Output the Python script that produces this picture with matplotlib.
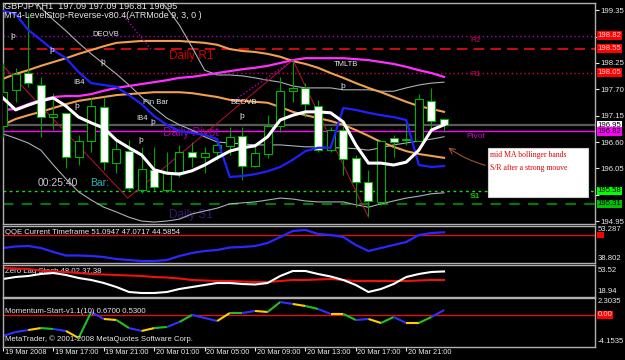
import matplotlib
matplotlib.use('Agg')
import matplotlib.pyplot as plt
import numpy as np
from matplotlib.patches import Rectangle

plt.rcParams['font.family'] = ['Liberation Sans', 'DejaVu Sans']

# ---------------- data ----------------
opens = [196.93, 197.69, 198.04, 197.79, 197.12, 197.21, 196.29, 196.62, 197.33, 196.16, 196.41, 195.60,
         196.02, 195.60, 195.97, 196.39, 196.29, 196.39, 196.52, 196.73, 196.10, 196.35, 196.93, 197.67,
         197.73, 197.35, 196.43, 196.85, 196.27, 195.77, 195.35, 196.68, 196.64, 196.62, 197.46, 197.09]
highs = [198.25, 198.15, 199.29, 197.96, 197.62, 197.21, 196.75, 197.52, 197.54, 196.64, 196.64, 196.50,
         196.50, 196.39, 196.54, 196.60, 196.50, 196.68, 196.91, 196.91, 196.54, 197.16, 197.96, 198.31,
         197.83, 197.48, 196.91, 196.93, 196.33, 196.02, 196.62, 196.75, 197.02, 197.60, 197.73, 197.09]
lows = [196.71, 197.44, 197.75, 196.71, 196.85, 196.06, 196.12, 196.39, 196.02, 195.95, 195.60, 195.54,
        195.60, 195.56, 195.87, 196.08, 195.95, 196.23, 196.33, 195.81, 196.08, 196.27, 196.81, 197.44,
        197.12, 196.39, 196.39, 195.91, 195.24, 195.06, 195.28, 196.29, 196.54, 196.62, 196.85, 196.81]
closes = [197.64, 198.02, 197.83, 197.12, 197.19, 196.29, 196.62, 197.35, 196.18, 196.45, 195.64, 196.04,
          195.66, 195.95, 196.39, 196.29, 196.37, 196.54, 196.71, 196.10, 196.37, 196.93, 197.67, 197.73,
          197.39, 196.43, 196.85, 196.25, 195.77, 195.37, 196.62, 196.60, 196.66, 197.50, 197.04, 196.95]

ma_white = [197.52, 197.27, 197.37, 197.46, 197.52, 197.35, 197.12, 197.00, 196.89, 196.64, 196.48, 196.33,
            196.02, 195.95, 195.93, 196.00, 196.12, 196.27, 196.41, 196.48, 196.52, 196.71, 197.06, 197.16,
            197.23, 197.23, 197.21, 197.02, 196.54, 196.16, 196.16, 196.12, 196.18, 196.43, 196.85, 196.96]
level_stop = [199.34, 199.27, 198.94, 198.73, 198.52, 198.35, 198.06, 197.83, 197.79, 197.75, 197.58, 197.39,
              197.14, 196.96, 196.83, 196.79, 196.75, 196.66, 195.87, 195.89, 195.93, 195.99, 196.08, 196.23,
              196.41, 196.48, 196.48, 197.31, 197.27, 197.21, 197.16, 197.12, 197.06, 196.12, 196.08, 196.10]
orange_up = [197.92, 198.02, 198.10, 198.19, 198.27, 198.35, 198.44, 198.52, 198.60, 198.67, 198.69, 198.71,
             198.71, 198.71, 198.71, 198.69, 198.67, 198.63, 198.54, 198.50, 198.48, 198.44, 198.38, 198.29,
             198.23, 198.15, 198.04, 197.94, 197.83, 197.73, 197.64, 197.54, 197.44, 197.35, 197.29, 197.23]
orange_lo = [196.96, 197.08, 197.16, 197.23, 197.31, 197.39, 197.46, 197.50, 197.54, 197.58, 197.60, 197.62,
             197.64, 197.64, 197.64, 197.62, 197.58, 197.54, 197.48, 197.46, 197.44, 197.42, 197.33, 197.23,
             197.16, 197.10, 197.04, 196.96, 196.85, 196.73, 196.60, 196.50, 196.41, 196.35, 196.31, 196.27]
magenta_ma = [197.27, 197.29, 197.39, 197.48, 197.54, 197.56, 197.56, 197.60, 197.67, 197.73, 197.77, 197.81,
              197.85, 197.89, 197.94, 197.96, 198.00, 198.04, 198.08, 198.12, 198.15, 198.19, 198.25, 198.31,
              198.35, 198.35, 198.35, 198.35, 198.33, 198.31, 198.27, 198.23, 198.17, 198.10, 198.04, 197.96]
band_mid = [200.19, 199.94, 199.69, 199.40, 199.15, 198.92, 198.67, 198.44, 198.23, 198.02, 197.79, 197.54,
            197.31, 197.10, 196.96, 196.85, 196.71, 196.60, 196.58, 196.56, 196.54, 196.54, 196.54, 196.52,
            196.50, 196.50, 196.48, 196.48, 196.46, 196.43, 196.48, 196.54, 196.58, 196.62, 196.66, 196.71]
band_up = [np.nan] * 10 + [200.50, 200.09, 199.67, 199.40, 199.04, 198.58, 198.10, 198.00, 198.00, 197.98,
                           197.94, 197.89, 197.85, 197.77, 197.73, 197.73, 197.73, 197.69, 197.69, 197.69,
                           197.66, 197.66, 197.73, 197.79, 197.83, 197.85]
band_lo = [196.77, 196.68, 196.58, 196.43, 196.12, 195.83, 195.56, 195.39, 195.24, 195.14, 195.03, 194.95,
           194.93, 194.95, 194.99, 195.10, 195.16, 195.22, 195.31, 195.33, 195.35, 195.39, 195.43, 195.41,
           195.37, 195.35, 195.35, 195.35, 195.29, 195.24, 195.31, 195.37, 195.43, 195.47, 195.52, 195.54]

# zigzag swing points (bar index, price)
zz_bars = [0, 9.9, 23, 29]
zz_prices = [198.19, 195.43, 198.31, 195.03]
zz2_bars = [9.4, 11.8]
zz2_prices = [199.29, 198.52]
zz3_bars = [18.4, 23]
zz3_prices = [197.48, 198.31]

levels = {'R2': 198.55, 'R1': 198.05, 'Pivot': 196.82, 'S1': 195.58, 'DS1': 195.31, 'top': 198.82, 'bid': 196.95}

qqe = [44.60, 45.22, 45.42, 44.60, 42.94, 41.49, 41.49, 41.29, 40.87, 40.04, 39.63, 39.21, 39.21, 39.63,
       41.29, 42.53, 43.35, 43.77, 44.80, 45.01, 45.42, 46.66, 49.15, 51.63, 52.05, 50.39, 49.98, 49.15,
       45.84, 43.35, 44.60, 45.84, 47.08, 49.98, 50.80, 51.09]
zl_white = [38.70, 41.17, 42.41, 44.88, 46.11, 43.64, 39.94, 37.47, 33.76, 28.82, 22.65, 21.41, 21.41, 22.65,
            26.35, 28.82, 31.29, 33.76, 33.76, 32.52, 31.90, 33.76, 42.41, 48.58, 48.58, 44.88, 41.79, 37.47,
            31.29, 22.65, 26.35, 32.52, 41.17, 44.88, 47.35, 48.02]
zl_red = [52.29, 51.67, 51.05, 49.20, 47.96, 47.35, 46.11, 44.88, 44.26, 43.64, 43.02, 42.41, 41.17, 40.55,
          39.32, 37.47, 36.85, 36.23, 36.23, 35.61, 35.00, 35.00, 36.23, 37.47, 37.47, 38.08, 38.70, 37.47,
          36.23, 36.23, 36.23, 36.23, 36.23, 36.85, 37.47, 37.38]
momentum = [-2.89, -2.34, -2.07, -1.80, -1.93, -2.20, -3.16, 0.41, -0.55, -0.69, -1.80, -2.20, -1.80, -1.65,
            -0.97, 0.00, -0.41, -0.83, 0.27, 0.27, 0.55, 0.41, 1.78, 1.51, 1.23, 0.82, 0.14, 0.14, -0.69,
            -0.55, -1.10, -0.28, -1.10, -1.10, -0.28, 0.67]
mom_seg = ['b', 'b', 'y', 'g', 'b', 'y', 'g', 'b', 'y', 'g', 'b', 'y', 'g', 'b', 'g', 'b', 'b', 'y', 'g', 'b',
           'y', 'g', 'b', 'y', 'g', 'b', 'y', 'g', 'b', 'y', 'g', 'b', 'y', 'g', 'b']

time_labels = ['19 Mar 2008', '19 Mar 17:00', '19 Mar 21:00', '20 Mar 01:00', '20 Mar 05:00',
               '20 Mar 09:00', '20 Mar 13:00', '20 Mar 17:00', '20 Mar 21:00']
price_ticks = [199.35, 198.80, 198.25, 197.70, 197.15, 196.60, 196.05, 195.50, 194.95]
hidden_ticks = [198.80, 195.50]

# ---------------- figure ----------------
W, H = 625, 360
fig = plt.figure(figsize=(W / 100, H / 100), dpi=100, facecolor='black')


def px_axes(left, top, right, bottom):
    a = fig.add_axes([left / W, 1 - bottom / H, (right - left) / W, (bottom - top) / H])
    a.set_facecolor('black')
    for s in a.spines.values():
        s.set_color('#b0b0b0')
        s.set_linewidth(1)
    a.set_xlim(0, 46.98)
    return a


x = np.arange(len(opens))
FS = 5.6
TXT = '#e8e8e8'

# ---------------- main panel ----------------
ax = px_axes(3, 3, 595, 224)
ax.set_ylim(194.889, 199.502)
ax.set_xticks([])
ax.yaxis.tick_right()
ax.set_yticks(price_ticks)
ax.set_yticklabels(['' if v in hidden_ticks else f'{v:.2f}' for v in price_ticks])
ax.tick_params(axis='y', colors=TXT, labelsize=FS, length=3, width=0.8, pad=1)

# horizontal levels
ax.axhline(levels['top'], color='#b000b0', lw=1, ls=(0, (1, 2)), zorder=1)
ax.axhline(levels['R2'], color='#ff1010', lw=1.1, ls=(0, (7, 4)), zorder=1)
ax.axhline(levels['R1'], color='#d0005a', lw=1, ls=(0, (1, 2)), zorder=1)
ax.axhline(levels['bid'], color='#5a5a5a', lw=1.6, zorder=1)
ax.axhline(levels['Pivot'], color='#ff00ff', lw=1, zorder=1)
ax.axhline(levels['S1'], color='#10e010', lw=1, ls=(0, (2, 2.5)), zorder=1)
ax.axhline(levels['DS1'], color='#007a00', lw=1.5, ls=(0, (5, 4)), zorder=1)

# big daily labels (behind)
ax.text(13.2, 198.40, 'Daily R1', color='#d00000', fontsize=8.5, va='center', zorder=1)
ax.text(12.7, 196.78, 'Daily Pivot', color='#a000a0', fontsize=8.5, va='center', zorder=1)
ax.text(13.2, 195.08, 'Daily S1', color='#3a1a6a', fontsize=8.5, va='center', zorder=1)

# bands and MAs
ax.plot(x, band_mid, color='#a8b0b8', lw=0.8, zorder=2)
ax.plot(x, band_up, color='#a8b0b8', lw=0.8, zorder=2)
ax.plot(x, band_lo, color='#a8b0b8', lw=0.8, zorder=2)
ax.plot(x, orange_up, color='#f0a050', lw=1.5, zorder=2)
ax.plot(x, orange_lo, color='#f0a050', lw=1.5, zorder=2)
ax.plot(x, magenta_ma, color='#ff30ff', lw=1.6, zorder=2)
ax.plot(zz_bars, zz_prices, color='#c01030', lw=0.7, zorder=2)
ax.plot(zz2_bars, zz2_prices, color='#b000b0', lw=1, ls=(0, (1, 1.5)), zorder=2)
ax.plot(zz3_bars, zz3_prices, color='#b000b0', lw=1, ls=(0, (1, 1.5)), zorder=2)

# candles
for i in range(len(opens)):
    o, h, l, c = opens[i], highs[i], lows[i], closes[i]
    ax.vlines(i, l, h, color='#00a000', lw=0.8, zorder=3)
    bull = c >= o
    body = max(abs(c - o), 0.012)
    ax.bar(i, body, bottom=min(o, c), width=0.64,
           color='black' if bull else 'white', edgecolor='#00b400', lw=0.8, zorder=4)

ax.plot(x, level_stop, color='#2020ff', lw=1.6, zorder=5)
ax.plot(x, ma_white, color='white', lw=2.2, zorder=5)


def box(a, val, txt, fc, tc, va='center', fs=FS):
    a.text(1.004, val, txt, transform=a.get_yaxis_transform(), fontsize=fs, color=tc, va=va, ha='left',
           bbox=dict(boxstyle='square,pad=0.1', fc=fc, ec='none'), zorder=20, clip_on=False)


box(ax, 198.82, '198.82', '#ff0000', '#ffd0d0')
box(ax, 198.55, '198.55', '#ff0000', '#ffd0d0')
box(ax, 198.05, '198.05', '#ff0000', '#ffd0d0')
box(ax, 196.95, '196.95', 'white', 'black')
box(ax, 196.82, '196.82', '#ff00ff', 'black')
box(ax, 195.58, '195.58', '#00ff00', 'black')
box(ax, 195.31, '195.31', '#00c000', 'black')

# ---------------- QQE ----------------
aq = px_axes(3, 226, 595, 263)
aq.set_ylim(38.39, 53.70)
aq.set_xticks([]); aq.set_yticks([])
aq.axhline(50, color='#e01010', lw=1)
aq.plot(x, qqe, color='#2828ff', lw=1.6)
aq.text(0.003, 0.82, 'QQE Current Timeframe 51.0947 47.0717 44.5854', transform=aq.transAxes,
        color=TXT, fontsize=FS, va='center', zorder=0)
aq.add_patch(Rectangle((1.004, 48.9), 0.011, 2.2, transform=aq.get_yaxis_transform(), fc='#ff0000',
                       ec='none', clip_on=False, zorder=1))
aq.text(1.004, 53.70, '53.287', transform=aq.get_yaxis_transform(), color=TXT, fontsize=FS, va='top',
        zorder=5)
aq.text(1.004, 38.802, '38.802', transform=aq.get_yaxis_transform(), color=TXT, fontsize=FS, va='bottom')

# ---------------- Zero lag stoch ----------------
az = px_axes(3, 265, 595, 297)
az.set_ylim(16.47, 55.99)
az.set_xticks([]); az.set_yticks([])
az.text(0.003, 0.8, 'Zero Lag Stoch 48.02 37.38', transform=az.transAxes, color=TXT, fontsize=FS,
        va='center', zorder=0)
az.plot(x, zl_red, color='#f01010', lw=1.5)
az.plot(x, zl_white, color='white', lw=1.5)
az.text(1.004, 53.52, '53.52', transform=az.get_yaxis_transform(), color=TXT, fontsize=FS, va='top')
az.text(1.004, 18.94, '18.94', transform=az.get_yaxis_transform(), color=TXT, fontsize=FS, va='bottom')

# ---------------- Momentum ----------------
am = px_axes(3, 298, 595, 347)
am.set_ylim(-4.40, 2.33)
am.set_yticks([])
am.axhline(0, color='#e01010', lw=1)
am.plot(x, momentum, color='#707070', lw=0.8, ls=(0, (1, 1.5)))
cmap = {'b': '#3030ff', 'y': '#ffcc00', 'g': '#20c020'}
for i, c in enumerate(mom_seg):
    am.plot([i, i + 1], [momentum[i], momentum[i + 1]], color=cmap[c], lw=1.5, solid_capstyle='butt')
am.text(0.003, 0.72, 'Momentum-Start-v1.1(10) 0.6700 0.5300', transform=am.transAxes, color=TXT,
        fontsize=FS, va='center')
am.text(0.003, 0.17, 'MetaTrader, \u00a9 2001-2008 MetaQuotes Software Corp.', transform=am.transAxes,
        color=TXT, fontsize=FS, va='center')
am.text(1.004, 2.3035, '2.3035', transform=am.get_yaxis_transform(), color=TXT, fontsize=FS, va='top')
am.text(1.004, -4.1535, '-4.1535', transform=am.get_yaxis_transform(), color=TXT, fontsize=FS, va='bottom')
box(am, 0.0, '0.00', '#ff0000', '#ffd0d0')
tick_pos = [4 * k for k in range(len(time_labels))]
am.set_xticks(tick_pos)
am.set_xticklabels([''] * len(tick_pos))
am.tick_params(axis='x', colors=TXT, length=3, width=0.8, direction='out')
for p, lab in zip(tick_pos, time_labels):
    am.text(p + 0.12, -0.05, lab, transform=am.get_xaxis_transform(), color=TXT, fontsize=5.3,
            va='top', ha='left', clip_on=False)

# ---------------- overlay texts ----------------
ov = fig.add_axes([0, 0, 1, 1], zorder=10)
ov.set_xlim(0, W); ov.set_ylim(H, 0); ov.axis('off'); ov.patch.set_alpha(0)

ov.text(4, 6, 'GBPJPY,H1  197.09 197.09 196.81 196.95', color=TXT, fontsize=6.6, va='center')
ov.text(4, 16, 'MT4-LevelStop-Reverse-v80.4(ATRMode 9, 3, 0 )', color=TXT, fontsize=6.4, va='center')
small = dict(color=TXT, fontsize=5.5, va='center')
ov.text(92, 34, 'DEOVB', **small)
ov.text(73, 82, 'IB4', **small)
ov.text(136, 118, 'IB4', **small)
ov.text(143, 102, 'Pin Bar', **small)
ov.text(230, 102, 'BEOVB', **small)
ov.text(334, 65, 'TMLTB', **small)
for (px_, py_) in [(13, 36), (52, 50), (103, 62), (77, 107), (153, 123), (141, 140), (242, 116), (343, 87)]:
    ov.text(px_, py_, '\u00fe', color=TXT, fontsize=6, va='center', ha='center')
ov.text(470, 41, 'R2', color='#d0005a', fontsize=6, va='center')
ov.text(470, 75, 'R1', color='#d0005a', fontsize=6, va='center')
ov.text(466, 137, 'Pivot', color='#d000d0', fontsize=6, va='center')
ov.text(470, 197, 'S1', color='#10c010', fontsize=6, va='center', fontweight='bold')
ov.text(38, 183, '00:25:40', color='#c8c8c8', fontsize=7.5, va='center')
ov.text(90, 183, 'Bar:', color='#30b0b0', fontsize=7.5, va='center')

ov.add_patch(Rectangle((488, 148), 100, 49, fc='white', ec='#d0d0d0', lw=0.8))
ov.text(490, 155, 'mid MA bollinger bands', color='#e00000', fontsize=5.6, va='center',
        family=['Liberation Serif', 'DejaVu Serif'])
ov.text(490, 168, 'S/R after a strong mouve', color='#e00000', fontsize=5.6, va='center',
        family=['Liberation Serif', 'DejaVu Serif'])
ov.annotate('', xy=(446, 146), xytext=(488, 166),
            arrowprops=dict(arrowstyle='->', color='#a0522d', lw=0.8, connectionstyle='arc3,rad=-0.1'))

fig.savefig('out.png', dpi=100, facecolor='black')
